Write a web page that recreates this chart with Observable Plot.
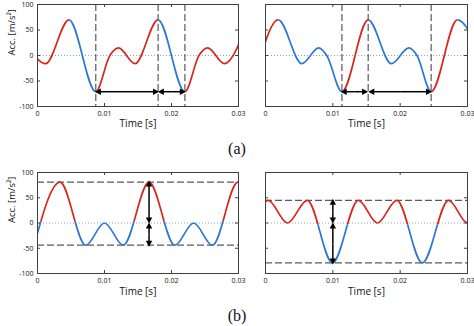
<!DOCTYPE html>
<html><head><meta charset="utf-8">
<script src="https://cdn.jsdelivr.net/npm/d3@7"></script>
<script src="https://cdn.jsdelivr.net/npm/@observablehq/plot@0.6"></script>
<style>
body{margin:0;background:#fff;}
#fig{position:relative;width:474px;height:326px;background:#fff;overflow:hidden;}
#fig svg{position:absolute;overflow:visible;}
.tag{position:absolute;font-family:"Liberation Serif","DejaVu Serif",serif;font-size:16px;color:#111;transform:translate(-50%,-50%);white-space:nowrap;}
</style></head><body><div id="fig"></div>
<script>
// ---- axes ----
const xTicks = [0, 0.01, 0.02, 0.03];
const xTickLabels = ["0", "0.01", "0.02", "0.03"];
const yTicks = [-100, -50, 0, 50, 100];
const yTickLabels = ["-100", "-50", "0", "50", "100"];
const xLabel = "Time [s]";
const yLabel = "Acc. [m/s²]";
const tags = ["(a)", "(b)"];

// ---- (a) left: waveform extrema / crossings ----
const tA1 = [-0.0012, 0.0012, 0.0047, 0.0087, 0.0108, 0.0121, 0.01455, 0.0180, 0.0220, 0.0241, 0.0254, 0.0279, 0.0314];
const accA1 = [15, -16, 70, -71, 0, 15, -16, 70, -71, 0, 15, -16, 70];
const fallA1 = [[0.0047, 0.0087], [0.0180, 0.0220]];
const markA1 = [0.0087, 0.0180, 0.0220];
const spanA1 = [[0.0088, 0.0179], [0.0182, 0.0219]];
const spanLevelA1 = -71;

// ---- (a) right ----
const tA2 = [-0.00195, 0.0019, 0.0054, 0.0079, 0.0091, 0.01135, 0.01525, 0.0187, 0.0213, 0.0225, 0.0246, 0.0285, 0.0323];
const accA2 = [-71, 70, -16, 15, 0, -71, 70, -16, 15, 0, -71, 70, -16];
const fallA2 = [[0.0019, 0.01135], [0.01525, 0.0246], [0.0285, 0.0323]];
const markA2 = [0.01135, 0.01525, 0.0246];
const spanA2 = [[0.0114, 0.0150], [0.0155, 0.0245]];
const spanLevelA2 = -71;

// ---- (b) left ----
const tB1 = [-0.0005, 0.00337, 0.0072, 0.0100, 0.0128, 0.01665, 0.0205, 0.0233, 0.0261, 0.0299, 0.0338];
const accB1 = [-44, 81, -44, 0, -44, 81, -44, 0, -44, 81, -44];
const levelB1 = [81, -44];
const spanB1 = [[81, 2], [-2, -44]];
const spanAtB1 = 0.01665;

// ---- (b) right ----
const tB2 = [-0.0034, 0.0004, 0.00326, 0.0062, 0.00995, 0.0138, 0.01662, 0.0195, 0.02329, 0.0272, 0.0300, 0.0328];
const accB2 = [-79, 45, 0, 45, -79, 45, 0, 45, -79, 45, 0, 45];
const levelB2 = [45, -79];
const spanB2 = [[45, 2], [-2, -79]];
const spanAtB2 = 0.0100;

const RED = "#d5281e", BLUE = "#2d78d4", FRAME = "#404040", GUIDE = "#5a5a5a";
const NS = "http://www.w3.org/2000/svg";
let clipN = 0;

function addClip(svg, color, rects) {
  const id = "cl" + (++clipN);
  const cp = document.createElementNS(NS, "clipPath");
  cp.setAttribute("id", id);
  for (const [x0, y0, x1, y1] of rects) {
    const r = document.createElementNS(NS, "rect");
    r.setAttribute("x", Math.min(x0, x1)); r.setAttribute("y", Math.min(y0, y1));
    r.setAttribute("width", Math.abs(x1 - x0)); r.setAttribute("height", Math.abs(y1 - y0));
    cp.appendChild(r);
  }
  let defs = document.createElementNS(NS, "defs");
  defs.appendChild(cp);
  svg.insertBefore(defs, svg.firstChild);
  svg.querySelectorAll(`[stroke="${color}"]`).forEach(el => el.setAttribute("clip-path", `url(#${id})`));
}

const mid = d => (d[0] + d[1]) / 2;

function makePanel(c) {
  const data = c.t.map((t, i) => ({t, a: c.acc[i]}));
  const pw = c.width - c.mL - c.mR, ph = c.height - c.mT - c.mB;
  const arrowStyle = {stroke: "#000", strokeWidth: 1.5, markerEnd: "arrow"};
  const dash = {stroke: GUIDE, strokeWidth: 1.2, strokeDasharray: "7,3"};
  let guides;
  if (c.kind === "a") {
    const lv = () => c.spanLevel;
    guides = [
      Plot.ruleX(c.marks, {x: d => d, ...dash}),
      Plot.link(c.spans, {x1: mid, x2: d => d[0], y1: lv, y2: lv, ...arrowStyle}),
      Plot.link(c.spans, {x1: mid, x2: d => d[1], y1: lv, y2: lv, ...arrowStyle})
    ];
  } else {
    const at = () => c.spanAt;
    guides = [
      Plot.ruleY(c.levels, {y: d => d, ...dash}),
      Plot.link(c.spans, {x1: at, x2: at, y1: mid, y2: d => d[0], ...arrowStyle}),
      Plot.link(c.spans, {x1: at, x2: at, y1: mid, y2: d => d[1], ...arrowStyle})
    ];
  }
  const marks = [
    Plot.ruleY([0], {stroke: "#7b9cc8", strokeWidth: 0.9, strokeDasharray: "1,2"}),
    guides[0],
    Plot.line(data, {x: "t", y: "a", curve: "monotone-x", stroke: RED, strokeWidth: 1.7}),
    Plot.line(data, {x: "t", y: "a", curve: "monotone-x", stroke: BLUE, strokeWidth: 1.7}),
    guides[1], guides[2],
    Plot.ruleX(xTicks, {x: d => d, stroke: FRAME, insetTop: ph - 3}),
    Plot.ruleX(xTicks, {x: d => d, stroke: FRAME, insetBottom: ph - 3}),
    Plot.ruleY(yTicks, {y: d => d, stroke: FRAME, insetRight: pw - 3}),
    Plot.ruleY(yTicks, {y: d => d, stroke: FRAME, insetLeft: pw - 3}),
    Plot.frame({stroke: FRAME}),
    Plot.text([xLabel], {text: d => d, frameAnchor: "bottom", dy: c.xLabelDy, fontSize: 10, fill: "#111"})
  ];
  if (c.yAxis) marks.push(Plot.text([yLabel], {text: d => d, frameAnchor: "left", rotate: -90, dx: -26, fontSize: 9.5, fill: "#111"}));
  const svg = Plot.plot({
    width: c.width, height: c.height,
    marginLeft: c.mL, marginRight: c.mR, marginTop: c.mT, marginBottom: c.mB,
    style: {fontFamily: "'Open Sans', 'Noto Sans', sans-serif", fontSize: "7px", color: "#111", background: "transparent", overflow: "visible"},
    x: {domain: [0, 0.03], ticks: xTicks, tickFormat: d => xTickLabels[xTicks.indexOf(d)], tickSize: 0, tickPadding: 5, label: null},
    y: c.yAxis
      ? {domain: [-100, 100], ticks: yTicks, tickFormat: d => yTickLabels[yTicks.indexOf(d)], tickSize: 0, tickPadding: 4, label: null}
      : {domain: [-100, 100], axis: null},
    marks
  });
  svg.style.left = c.left + "px";
  svg.style.top = c.top + "px";
  svg.style.overflow = "visible";
  // colour split
  const sx = svg.scale("x"), sy = svg.scale("y");
  const X0 = sx.apply(0), X1 = sx.apply(0.03), YT = sy.apply(100) - 2, YB = sy.apply(-100) + 2;
  if (c.kind === "a") {
    const blue = c.fall.map(([a, b]) => [Math.max(X0, sx.apply(a)), YT, Math.min(X1, sx.apply(b)), YB]);
    const red = [];
    let prev = X0;
    for (const [a, b] of c.fall) { const xa = sx.apply(a); if (xa > prev) red.push([prev, YT, xa, YB]); prev = sx.apply(b); }
    if (prev < X1) red.push([prev, YT, X1, YB]);
    addClip(svg, RED, red);
    addClip(svg, BLUE, blue);
  } else {
    const y0 = sy.apply(0) + c.zeroShift;
    addClip(svg, RED, [[X0, YT, X1, y0]]);
    addClip(svg, BLUE, [[X0, y0, X1, YB]]);
  }
  // filled arrow heads
  svg.querySelectorAll("marker").forEach(m => {
    const col = m.getAttribute("stroke") || "#000";
    m.setAttribute("fill", col); m.setAttribute("stroke", "none");
    const p = m.querySelector("path");
    if (p) p.setAttribute("d", "M-4.4,-3.2L1.6,0L-4.4,3.2Z");
  });
  return svg;
}

const fig = document.getElementById("fig");
const cfgs = [
  {kind: "a", left: 0, top: 0, width: 240, height: 160, mL: 37, mR: 2, mT: 4, mB: 54, yAxis: true, xLabelDy: 20,
   t: tA1, acc: accA1, fall: fallA1, marks: markA1, spans: spanA1, spanLevel: spanLevelA1},
  {kind: "a", left: 237, top: 0, width: 237, height: 160, mL: 28, mR: 7, mT: 4, mB: 54, yAxis: false, xLabelDy: 20,
   t: tA2, acc: accA2, fall: fallA2, marks: markA2, spans: spanA2, spanLevel: spanLevelA2},
  {kind: "b", left: 0, top: 160, width: 240, height: 166, mL: 37, mR: 2, mT: 12, mB: 53, yAxis: true, xLabelDy: 21.5,
   t: tB1, acc: accB1, levels: levelB1, spans: spanB1, spanAt: spanAtB1, zeroShift: -1.3},
  {kind: "b", left: 237, top: 160, width: 237, height: 166, mL: 28, mR: 7, mT: 12, mB: 53, yAxis: false, xLabelDy: 21.5,
   t: tB2, acc: accB2, levels: levelB2, spans: spanB2, spanAt: spanAtB2, zeroShift: 1.3}
];
for (const c of cfgs) fig.appendChild(makePanel(c));

[[tags[0], 237, 149], [tags[1], 237, 316]].forEach(([s, x, y]) => {
  const d = document.createElement("div");
  d.className = "tag"; d.textContent = s;
  d.style.left = x + "px"; d.style.top = y + "px";
  fig.appendChild(d);
});
</script></body></html>
